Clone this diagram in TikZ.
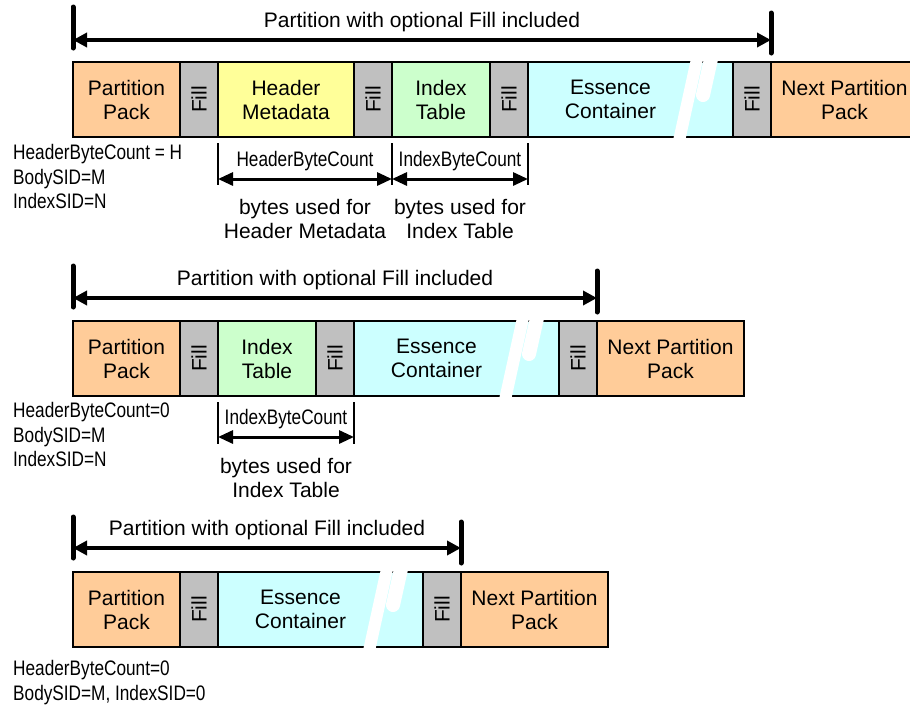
\documentclass[tikz,border=0pt]{standalone}
\usepackage{fontspec}
\setmainfont{Liberation Sans}
\newfontfamily\narrowfont[FakeStretch=0.82]{Liberation Sans}
\usetikzlibrary{positioning,calc,arrows.meta}
\definecolor{packcol}{HTML}{FFCC99}
\definecolor{fillcol}{HTML}{C0C0C0}
\definecolor{hdrcol}{HTML}{FFFF99}
\definecolor{idxcol}{HTML}{CCFFCC}
\definecolor{esscol}{HTML}{CCFFFF}

\begin{document}
\begin{tikzpicture}[x=1pt, y=-1pt,
	font=\fontsize{21}{24}\selectfont,
	box/.style={draw, line width=1.6pt, inner sep=0pt, outer sep=0pt, minimum height=75pt, align=center},
	pack/.style={box, fill=packcol, minimum width=107pt},
	nextpack/.style={box, fill=packcol, minimum width=147pt},
	fillbox/.style={box, fill=fillcol, minimum width=38pt},
	hdr/.style={box, fill=hdrcol, minimum width=136pt},
	idx/.style={box, fill=idxcol, minimum width=98pt},
	ess/.style={box, fill=esscol, minimum width=205pt},
	brk/.style={white, line width=12pt},
	hook/.style={white, line width=14pt, line cap=round},
	bar/.style={line width=5pt, line cap=round},
	span/.style={line width=3.5pt, {Triangle[length=14pt,width=14pt]}-{Triangle[length=14pt,width=14pt]}},
	tick/.style={line width=1.2pt},
	dim/.style={line width=3pt, {Triangle[length=15pt,width=13pt]}-{Triangle[length=15pt,width=13pt]}},
	dimlbl/.style={font=\narrowfont\fontsize{21}{24}\selectfont},
	info/.style={font=\narrowfont\fontsize{21}{24.5}\selectfont, align=left, inner sep=0pt, anchor=north west},
	note/.style={align=center, inner sep=0pt}]
	\useasboundingbox (0,0) rectangle (910,705);

	% First partition: header metadata and index table
	\node [pack, anchor=north west] (pp1) at (73,62) {Partition\\Pack};
	\node [fillbox, right=0pt of pp1] (fa1) {\rotatebox{90}{Fill}};
	\node [hdr, right=0pt of fa1] (hm1) {Header\\Metadata};
	\node [fillbox, right=0pt of hm1] (fb1) {\rotatebox{90}{Fill}};
	\node [idx, right=0pt of fb1] (it1) {Index\\Table};
	\node [fillbox, right=0pt of it1] (fc1) {\rotatebox{90}{Fill}};
	\node [ess, right=0pt of fc1] (ec1) {};
	\node [fillbox, right=0pt of ec1] (fd1) {\rotatebox{90}{Fill}};
	\node [nextpack, right=0pt of fd1] (np1) {Next Partition\\Pack};
	\draw [brk] ($(ec1.north west)+(151,79)$) -- ($(ec1.north west)+(169,-3)$);
	\draw [hook] ($(ec1.north west)+(183,-3)$) -- ($(ec1.north west)+(175,33)$);
	\node [note] (et1) at ($(ec1.center)+(-20,0)$) {Essence\\Container};

	\coordinate (s1) at ($(pp1.north west)+(0,-22)$);
	\coordinate (e1) at ($(fd1.north east)+(0,-22)$);
	\draw [bar] ($(s1)+(0,-33)$) -- ($(s1)+(0,8)$);
	\draw [bar] ($(e1)+(0,-27)$) -- ($(e1)+(0,13)$);
	\draw [span] (s1) -- node[midway, yshift=18pt] (t1) {Partition with optional Fill included} (e1);

	\draw [tick] ($(hm1.south west)+(0,6)$) -- ($(hm1.south west)+(0,48)$);
	\draw [tick] ($(fb1.south east)+(0,6)$) -- ($(fb1.south east)+(0,48)$);
	\draw [tick] ($(fc1.south east)+(0,6)$) -- ($(fc1.south east)+(0,48)$);
	\draw [dim] ($(hm1.south west)+(0,42)$) --
		node[dimlbl, midway, yshift=18pt] (hb1) {HeaderByteCount}
		node[note, midway, yshift=-40pt] (hu1) {bytes used for\\Header Metadata}
		($(fb1.south east)+(0,42)$);
	\draw [dim] ($(it1.south west)+(0,42)$) --
		node[dimlbl, midway, yshift=18pt] (ib1) {IndexByteCount}
		node[note, midway, yshift=-40pt] (iu1) {bytes used for\\Index Table}
		($(fc1.south east)+(0,42)$);
	\node [info] (id1) at (13,144.5) {HeaderByteCount = H\\BodySID=M\\IndexSID=N};

	% Second partition: index table only
	\node [pack, anchor=north west] (pp2) at (73,321) {Partition\\Pack};
	\node [fillbox, right=0pt of pp2] (fa2) {\rotatebox{90}{Fill}};
	\node [idx, right=0pt of fa2] (it2) {Index\\Table};
	\node [fillbox, right=0pt of it2] (fb2) {\rotatebox{90}{Fill}};
	\node [ess, right=0pt of fb2] (ec2) {};
	\node [fillbox, right=0pt of ec2] (fc2) {\rotatebox{90}{Fill}};
	\node [nextpack, right=0pt of fc2] (np2) {Next Partition\\Pack};
	\draw [brk] ($(ec2.north west)+(151,79)$) -- ($(ec2.north west)+(169,-3)$);
	\draw [hook] ($(ec2.north west)+(183,-3)$) -- ($(ec2.north west)+(175,33)$);
	\node [note] (et2) at ($(ec2.center)+(-20,0)$) {Essence\\Container};

	\coordinate (s2) at ($(pp2.north west)+(0,-23)$);
	\coordinate (e2) at ($(fc2.north east)+(0,-23)$);
	\draw [bar] ($(s2)+(0,-32)$) -- ($(s2)+(0,9)$);
	\draw [bar] ($(e2)+(0,-27)$) -- ($(e2)+(0,14)$);
	\draw [span] (s2) -- node[midway, yshift=18pt] (t2) {Partition with optional Fill included} (e2);

	\draw [tick] ($(it2.south west)+(0,6)$) -- ($(it2.south west)+(0,48)$);
	\draw [tick] ($(fb2.south east)+(0,6)$) -- ($(fb2.south east)+(0,48)$);
	\draw [dim] ($(it2.south west)+(0,41)$) --
		node[dimlbl, midway, yshift=18pt] (ib2) {IndexByteCount}
		node[note, midway, yshift=-41pt] (iu2) {bytes used for\\Index Table}
		($(fb2.south east)+(0,41)$);
	\node [info] (id2) at (13,402.5) {HeaderByteCount=0\\BodySID=M\\IndexSID=N};

	% Third partition: essence only
	\node [pack, anchor=north west] (pp3) at (73,572) {Partition\\Pack};
	\node [fillbox, right=0pt of pp3] (fa3) {\rotatebox{90}{Fill}};
	\node [ess, right=0pt of fa3] (ec3) {};
	\node [fillbox, right=0pt of ec3] (fb3) {\rotatebox{90}{Fill}};
	\node [nextpack, right=0pt of fb3] (np3) {Next Partition\\Pack};
	\draw [brk] ($(ec3.north west)+(151,79)$) -- ($(ec3.north west)+(169,-3)$);
	\draw [hook] ($(ec3.north west)+(183,-3)$) -- ($(ec3.north west)+(175,33)$);
	\node [note] (et3) at ($(ec3.center)+(-20,0)$) {Essence\\Container};

	\coordinate (s3) at ($(pp3.north west)+(0,-24)$);
	\coordinate (e3) at ($(fb3.north east)+(0,-24)$);
	\draw [bar] ($(s3)+(0,-31)$) -- ($(s3)+(0,10)$);
	\draw [bar] ($(e3)+(0,-26)$) -- ($(e3)+(0,15)$);
	\draw [span] (s3) -- node[midway, yshift=18pt] (t3) {Partition with optional Fill included} (e3);

	\node [info] (id3) at (13,660.5) {HeaderByteCount=0\\BodySID=M, IndexSID=0};
\end{tikzpicture}
\end{document}
